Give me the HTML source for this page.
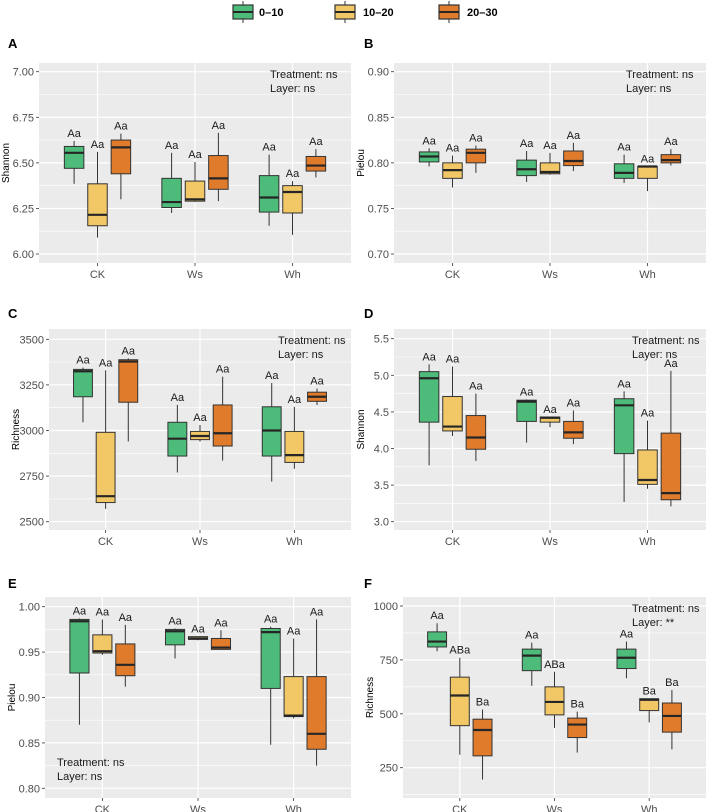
<!DOCTYPE html>
<html><head><meta charset="utf-8"><style>
body{margin:0;background:#fff;}
svg{display:block;font-family:"Liberation Sans",sans-serif;}
</style></head><body>
<svg id="chart" width="708" height="812" viewBox="0 0 708 812"></svg>
<script>
// categories and groups
const categories = ["CK","Ws","Wh"];
const layers = ["0–10","10–20","20–30"];
const layerColors = ["#4dbb79","#f2c766","#e07b2c"];
// each box: [low whisker, q1, median, q3, high whisker]; order: CK(0-10,10-20,20-30), Ws(...), Wh(...)
const statsA = [[6.385,6.47,6.555,6.59,6.62],[6.09,6.155,6.215,6.385,6.56],[6.30,6.44,6.585,6.625,6.66],
 [6.225,6.255,6.285,6.415,6.555],[6.285,6.29,6.30,6.40,6.505],[6.29,6.355,6.415,6.54,6.665],
 [6.155,6.23,6.31,6.43,6.545],[6.105,6.225,6.34,6.375,6.40],[6.42,6.455,6.485,6.535,6.575]];
const statsB = [[.796,.801,.807,.812,.816],[.773,.783,.792,.800,.808],[.789,.800,.811,.815,.819],
 [.779,.786,.793,.803,.813],[.787,.788,.790,.800,.811],[.791,.797,.802,.813,.822],
 [.778,.783,.789,.799,.809],[.769,.783,.796,.796,.796],[.797,.800,.803,.809,.815]];
const statsC = [[3045,3185,3325,3335,3345],[2570,2605,2640,2990,3330],[2940,3155,3378,3388,3395],
 [2770,2860,2955,3045,3140],[2940,2950,2970,2995,3030],[2835,2915,2985,3140,3295],
 [2720,2860,3000,3130,3260],[2790,2825,2865,2995,3130],[3140,3160,3185,3210,3230]];
const statsD = [[3.77,4.36,4.96,5.05,5.15],[4.17,4.24,4.30,4.71,5.12],[3.83,3.99,4.15,4.45,4.75],
 [4.08,4.37,4.64,4.66,4.67],[4.29,4.36,4.42,4.43,4.43],[4.06,4.14,4.22,4.37,4.52],
 [3.27,3.93,4.59,4.68,4.78],[3.45,3.51,3.57,3.98,4.38],[3.21,3.30,3.39,4.21,5.06]];
const statsE = [[.870,.927,.984,.986,.987],[.947,.949,.951,.969,.986],[.912,.924,.936,.959,.980],
 [.943,.958,.973,.975,.976],[.963,.964,.965,.967,.967],[.953,.953,.955,.965,.974],
 [.848,.910,.972,.976,.978],[.877,.879,.880,.923,.965],[.825,.843,.860,.923,.986]];
const statsF = [[790,810,835,880,920],[310,445,585,670,760],[195,305,425,475,520],
 [630,700,770,800,830],[435,495,555,625,695],[320,390,450,480,510],
 [665,710,760,800,835],[460,515,565,570,570],[335,415,490,550,610]];
const lettersF = ["Aa","ABa","Ba","Aa","ABa","Ba","Aa","Ba","Ba"];
const ticksA = [6.00,6.25,6.50,6.75,7.00], tickLabA = ["6.00","6.25","6.50","6.75","7.00"];
const ticksB = [0.70,0.75,0.80,0.85,0.90], tickLabB = ["0.70","0.75","0.80","0.85","0.90"];
const ticksC = [2500,2750,3000,3250,3500], tickLabC = ["2500","2750","3000","3250","3500"];
const ticksD = [3.0,3.5,4.0,4.5,5.0,5.5], tickLabD = ["3.0","3.5","4.0","4.5","5.0","5.5"];
const ticksE = [0.80,0.85,0.90,0.95,1.00], tickLabE = ["0.80","0.85","0.90","0.95","1.00"];
const ticksF = [250,500,750,1000], tickLabF = ["250","500","750","1000"];

const NS="http://www.w3.org/2000/svg";
const svg=document.getElementById('chart');
function mk(tag,attrs,parent,text){const e=document.createElementNS(NS,tag);for(const k in attrs)e.setAttribute(k,attrs[k]);if(text!==undefined)e.textContent=text;(parent||svg).appendChild(e);return e;}

const aa = Array(9).fill("Aa");
const panels=[
 {id:"a",letter:"A",lx:8,ly:48,x0:39,x1:351,y0:63,y1:263,t1:[7.00,71.7],t2:[6.00,254],ticks:ticksA,tl:tickLabA,title:"Shannon",stats:statsA,labs:aa,ann:[270,78]},
 {id:"b",letter:"B",lx:364,ly:48,x0:394,x1:706,y0:63,y1:263,t1:[0.90,71.7],t2:[0.70,254],ticks:ticksB,tl:tickLabB,title:"Pielou",stats:statsB,labs:aa,ann:[626,78]},
 {id:"c",letter:"C",lx:8,ly:318,x0:49,x1:351,y0:329,y1:530,t1:[3500,339.3],t2:[2500,521.7],ticks:ticksC,tl:tickLabC,title:"Richness",stats:statsC,labs:aa,ann:[278,344]},
 {id:"d",letter:"D",lx:364,ly:318,x0:394,x1:706,y0:329,y1:530,t1:[5.5,338.7],t2:[3.0,521.7],ticks:ticksD,tl:tickLabD,title:"Shannon",stats:statsD,labs:aa,ann:[632,344]},
 {id:"e",letter:"E",lx:8,ly:588,x0:45,x1:351,y0:597,y1:798,t1:[1.00,606.7],t2:[0.80,788.3],ticks:ticksE,tl:tickLabE,title:"Pielou",stats:statsE,labs:aa,ann:[57,766]},
 {id:"f",letter:"F",lx:364,ly:588,x0:403,x1:706,y0:597,y1:798,t1:[1000,606],t2:[250,767.7],ticks:ticksF,tl:tickLabF,title:"Richness",stats:statsF,labs:lettersF,ann:[632,612],layerSig:"**"},
];

panels.forEach(p=>{
  const g=mk('g',{});
  
  
  const yS=v=>p.t2[1]+(v-p.t2[0])*(p.t1[1]-p.t2[1])/(p.t1[0]-p.t2[0]);
  const unit=(p.x1-p.x0)/3.2;
  const xS=i=>p.x0+(i+0.6)*unit;
  const lt=mk('text',{x:p.lx,y:p.ly,'font-size':13,'font-weight':'bold',fill:'#000'},g,p.letter);
  
  
  const bg=mk('rect',{x:p.x0,y:p.y0,width:p.x1-p.x0,height:p.y1-p.y0,fill:'#ebebeb'},g);
  
  
  // minor grid
  const step=p.ticks[1]-p.ticks[0];
  for(let v=p.ticks[0]-step/2;v<=p.ticks[p.ticks.length-1]+step;v+=step){
    const y=yS(v); if(y<p.y0||y>p.y1)continue;
    mk('line',{x1:p.x0,x2:p.x1,y1:y,y2:y,stroke:'#fff','stroke-width':0.6},g);
  }
  const yt=[p.ticks[0]-step].concat(p.ticks);
  p.ticks.forEach((v,k)=>{
    const y=yS(v);
    mk('line',{x1:p.x0,x2:p.x1,y1:y,y2:y,stroke:'#fff','stroke-width':1.2},g);
    mk('line',{x1:p.x0-3,x2:p.x0,y1:y,y2:y,stroke:'#333','stroke-width':0.8},g);
    const t=mk('text',{x:p.x0-5,y:y+4,'font-size':11,'text-anchor':'end',fill:'#4d4d4d'},g,p.tl[k]);
    
    
  });
  categories.forEach((c,i)=>{
    const x=xS(i);
    mk('line',{x1:x,x2:x,y1:p.y0,y2:p.y1,stroke:'#fff','stroke-width':1.2},g);
    mk('line',{x1:x,x2:x,y1:p.y1,y2:p.y1+3,stroke:'#333','stroke-width':0.8},g);
    const t=mk('text',{x:x,y:p.y1+15,'font-size':11,'text-anchor':'middle',fill:'#4d4d4d'},g,c);
    
    
  });
  const yt2=mk('text',{x:0,y:0,'font-size':10,'text-anchor':'middle',fill:'#000',transform:`translate(${p.x0-30},${(p.y0+p.y1)/2}) rotate(-90)`},g,p.title);
  
  
  p.stats.forEach((s,k)=>{
    const ci=Math.floor(k/3), li=k%3;
    const cx=xS(ci)+(li-1)*0.24*unit, w=0.2*unit;
    const bx=mk('g',{},g);
    
    
    mk('line',{x1:cx,x2:cx,y1:yS(s[0]),y2:yS(s[4]),stroke:'#333','stroke-width':1},bx);
    mk('rect',{x:cx-w/2,y:yS(s[3]),width:w,height:Math.max(0.5,yS(s[1])-yS(s[3])),fill:layerColors[li],stroke:'#333','stroke-width':1},bx);
    mk('line',{x1:cx-w/2,x2:cx+w/2,y1:yS(s[2]),y2:yS(s[2]),stroke:'#262626','stroke-width':2.2},bx);
    const lb=mk('text',{x:cx,y:yS(s[4])-4,'font-size':11,'text-anchor':'middle',fill:'#1a1a1a'},bx,p.labs[k]);
    
    
  });
  const a1=mk('text',{x:p.ann[0],y:p.ann[1],'font-size':11,fill:'#1a1a1a'},g,'Treatment: ns');
  
  
  const a2=mk('text',{x:p.ann[0],y:p.ann[1]+14,'font-size':11,fill:'#1a1a1a'},g,'Layer: '+(p.layerSig||'ns'));
  
  
});

// legend
const legX=[233,335,439], legT=[259,363,467];
layers.forEach((l,i)=>{
  const g=mk('g',{});
  
  
  const cx=legX[i]+10;
  mk('line',{x1:cx,x2:cx,y1:1,y2:23,stroke:'#333','stroke-width':1},g);
  mk('rect',{x:legX[i],y:5,width:20,height:14,fill:layerColors[i],stroke:'#333','stroke-width':1.2},g);
  mk('line',{x1:legX[i],x2:legX[i]+20,y1:12,y2:12,stroke:'#262626','stroke-width':2},g);
  const t=mk('text',{x:legT[i],y:16,'font-size':11,'font-weight':'bold',fill:'#000'},g,l);
  
  
});
</script>
</body></html>
